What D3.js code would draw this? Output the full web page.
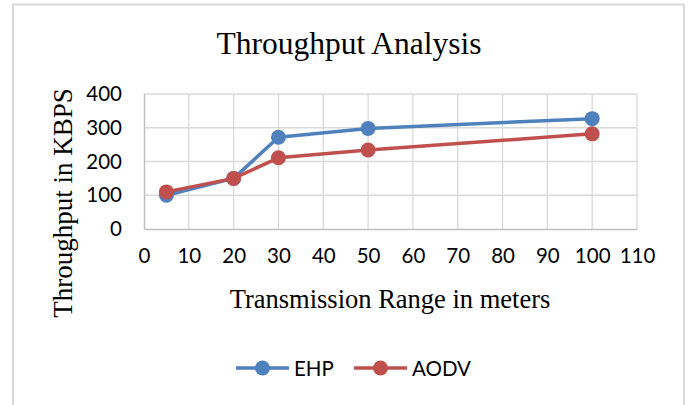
<!DOCTYPE html>
<html>
<head>
<meta charset="utf-8">
<script src="https://cdn.jsdelivr.net/npm/d3@7"></script>
<style>
  html, body { margin: 0; padding: 0; background: #fff; }
  svg { display: block; }
</style>
</head>
<body>
<svg id="chart" width="688" height="405"></svg>
<script>
// Transmission range (m) and throughput (KBPS) per protocol
const ranges = [5, 20, 30, 50, 100];
const ehp = [100, 150, 272, 298, 327];
const aodv = [110, 150, 211, 234, 282];
const seriesNames = ["EHP", "AODV"];
const seriesColors = ["#4f81bd", "#c0504d"];
const xTicks = [0, 10, 20, 30, 40, 50, 60, 70, 80, 90, 100, 110];
const yTicks = [0, 100, 200, 300, 400];

const svg = d3.select("#chart");
const plot = { left: 144, right: 637, top: 94, bottom: 229 };
const tickFont = "Lato, 'Open Sans', sans-serif";
const serif = "'Liberation Serif', 'Times New Roman', serif";

// Chart frame
svg.append("rect")
  .attr("x", 13).attr("y", 4.5)
  .attr("width", 671).attr("height", 410)
  .attr("fill", "#fff").attr("stroke", "#d9d9d9").attr("stroke-width", 2);

const x = d3.scaleLinear().domain([0, 110]).range([plot.left, plot.right]);
const y = d3.scaleLinear().domain([0, 400]).range([plot.bottom, plot.top]);

// Gridlines
const grid = svg.append("g");
grid.selectAll("line.v").data(xTicks.slice(1)).join("line")
  .attr("x1", d => x(d)).attr("x2", d => x(d))
  .attr("y1", plot.top).attr("y2", plot.bottom)
  .attr("stroke", "#d9d9d9").attr("stroke-width", 1.3);
grid.selectAll("line.h").data(yTicks.slice(1)).join("line")
  .attr("x1", plot.left).attr("x2", plot.right)
  .attr("y1", d => y(d)).attr("y2", d => y(d))
  .attr("stroke", "#d9d9d9").attr("stroke-width", 1.3);

// Axes
const xAxis = d3.axisBottom(x).tickValues(xTicks).tickSize(0).tickPadding(19);
const yAxis = d3.axisLeft(y).tickValues(yTicks).tickSize(0).tickPadding(22);

const gx = svg.append("g").attr("transform", `translate(0,${plot.bottom})`).call(xAxis);
const gy = svg.append("g").attr("transform", `translate(${plot.left},0)`).call(yAxis);
[gx, gy].forEach(g => {
  g.select(".domain").attr("stroke", "#bfbfbf").attr("stroke-width", 1.5);
  g.selectAll("text")
    .attr("font-family", tickFont).attr("font-size", 20.5).attr("fill", "#000");
});

// Series lines and markers
const series = [ehp, aodv];
const line = d3.line().x((d, i) => x(ranges[i])).y(d => y(d));
series.forEach((vals, si) => {
  const g = svg.append("g");
  g.append("path").datum(vals)
    .attr("d", line)
    .attr("fill", "none")
    .attr("stroke", seriesColors[si])
    .attr("stroke-width", 3.5)
    .attr("stroke-linejoin", "round");
  g.selectAll("circle").data(vals).join("circle")
    .attr("cx", (d, i) => x(ranges[i]))
    .attr("cy", d => y(d))
    .attr("r", 7.5)
    .attr("fill", seriesColors[si]);
});

// Titles
svg.append("text")
  .attr("x", 349).attr("y", 54)
  .attr("text-anchor", "middle")
  .attr("font-family", serif).attr("font-size", 31.5)
  .text("Throughput Analysis");

svg.append("text")
  .attr("x", 390).attr("y", 308)
  .attr("text-anchor", "middle")
  .attr("font-family", serif).attr("font-size", 26.5)
  .text("Transmission Range in meters");

svg.append("text")
  .attr("transform", "translate(72,203) rotate(-90)")
  .attr("text-anchor", "middle")
  .attr("font-family", serif).attr("font-size", 27)
  .text("Throughput in KBPS");

// Legend
const legend = svg.append("g");
const legendItems = [
  { x0: 236, label: seriesNames[0], color: seriesColors[0] },
  { x0: 354, label: seriesNames[1], color: seriesColors[1] }
];
legendItems.forEach(it => {
  legend.append("line")
    .attr("x1", it.x0).attr("x2", it.x0 + 53)
    .attr("y1", 368).attr("y2", 368)
    .attr("stroke", it.color).attr("stroke-width", 3.5);
  legend.append("circle")
    .attr("cx", it.x0 + 26.5).attr("cy", 368).attr("r", 7.5)
    .attr("fill", it.color);
  legend.append("text")
    .attr("x", it.x0 + 58).attr("y", 375.5)
    .attr("font-family", tickFont).attr("font-size", 20.5)
    .text(it.label);
});
</script>
</body>
</html>
